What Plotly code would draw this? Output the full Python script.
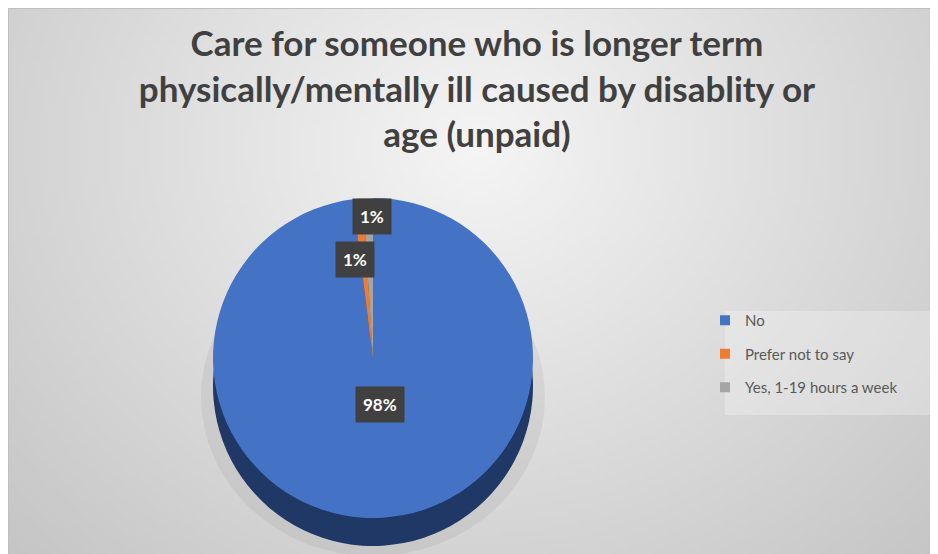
import base64
import math
import struct
import zlib

import plotly.graph_objects as go

# data
labels = ["No", "Prefer not to say", "Yes, 1-19 hours a week"]
values = [98, 1, 1]
colors = ["#4472C4", "#ED7D31", "#A5A5A5"]
side_colors = ["#1F3866", "#843C0C", "#525252"]

title_text = ("Care for someone who is longer term<br>"
              "physically/mentally ill caused by disablity or<br>"
              "age (unpaid)")

W, H = 938, 554
FONT = "Lato"


def background_png(w, h):
    # soft radial grey gradient like the excel chart area
    rows = []
    for j in range(h):
        row = bytearray()
        for i in range(w):
            dx = (i / (w - 1) - 0.5) / 0.5
            dy = (j / (h - 1) - 0.25) / 0.75
            t = math.sqrt(dx * dx + dy * dy)
            row.append(max(0, min(255, int(245 - 34 * t))))
        rows.append(b"\x00" + bytes(row))

    def chunk(tag, data):
        return (struct.pack(">I", len(data)) + tag + data
                + struct.pack(">I", zlib.crc32(tag + data) & 0xffffffff))

    png = b"\x89PNG\r\n\x1a\n"
    png += chunk(b"IHDR", struct.pack(">IIBBBBB", w, h, 8, 0, 0, 0, 0))
    png += chunk(b"IDAT", zlib.compress(b"".join(rows), 9))
    png += chunk(b"IEND", b"")
    return "data:image/png;base64," + base64.b64encode(png).decode()


def px_x(x):
    return x / W


def px_y(y):
    return 1 - y / H


# pie face: centre (365, 350), diameter 320, side depth 28 px
cx, cy, d, depth = 365, 350, 320, 28
face_domain = dict(x=[px_x(cx - d / 2), px_x(cx + d / 2)],
                   y=[px_y(cy + d / 2), px_y(cy - d / 2)])
side_domain = dict(x=face_domain["x"],
                   y=[px_y(cy + d / 2 + depth), px_y(cy - d / 2 + depth)])

fig = go.Figure()

# side of the "3d" pie
fig.add_trace(go.Pie(
    labels=labels, values=values, sort=False, direction="clockwise",
    rotation=0, domain=side_domain, textinfo="none", hoverinfo="skip",
    marker=dict(colors=side_colors, line=dict(width=0)),
    showlegend=False,
))

# top face
fig.add_trace(go.Pie(
    labels=labels, values=values, sort=False, direction="clockwise",
    rotation=0, domain=face_domain, textinfo="none",
    marker=dict(colors=colors, line=dict(width=0)),
    showlegend=False,
))

# legend entries
for lab, col in zip(labels, colors):
    fig.add_trace(go.Scatter(
        x=[None], y=[None], mode="markers", name=lab, legendgroup=lab,
        marker=dict(symbol="square", size=10, color=col),
    ))

# data labels
total = sum(values)
label_pos = [(372, 415), (347, 251), (364, 208)]
for v, (lx, ly) in zip(values, label_pos):
    fig.add_annotation(
        x=px_x(lx), y=px_y(ly), xref="paper", yref="paper",
        text="<b>%d%%</b>" % round(v / total * 100), showarrow=False,
        font=dict(family=FONT, size=17, color="white"),
        bgcolor="#404040", borderpad=7,
    )

# soft shadow hugging the pie
fig.add_shape(type="circle", xref="paper", yref="paper", layer="below",
              x0=px_x(cx - d / 2 - 12), x1=px_x(cx + d / 2 + 12),
              y0=px_y(cy + d / 2 + depth + 10), y1=px_y(cy - d / 2 + 40),
              fillcolor="rgba(0,0,0,0.05)", line=dict(width=0))

# legend box
fig.add_shape(type="rect", xref="paper", yref="paper", layer="below",
              x0=px_x(717), x1=px_x(925), y0=px_y(407), y1=px_y(303),
              fillcolor="rgba(255,255,255,0.25)", line=dict(width=0))

# chart border
fig.add_shape(type="rect", xref="paper", yref="paper",
              x0=0, x1=1, y0=0, y1=1, line=dict(color="#BFBFBF", width=2))

fig.update_layout(
    width=W, height=H,
    margin=dict(l=0, r=0, t=0, b=0),
    paper_bgcolor="#E6E6E6",
    plot_bgcolor="rgba(0,0,0,0)",
    images=[dict(source=background_png(188, 111), xref="paper", yref="paper",
                 x=0, y=1, sizex=1, sizey=1, xanchor="left", yanchor="top",
                 sizing="stretch", layer="below")],
    title=dict(text="<b>" + title_text + "</b>", x=0.5, xanchor="center",
               y=px_y(48), yanchor="top",
               font=dict(family=FONT, size=35, color="#404040")),
    xaxis=dict(visible=False),
    yaxis=dict(visible=False),
    legend=dict(x=px_x(697), y=px_y(296), xanchor="left", yanchor="top",
                bgcolor="rgba(0,0,0,0)", tracegroupgap=11,
                font=dict(family=FONT, size=15, color="#595959")),
    hovermode=False,
)

fig.write_html("out.html")
